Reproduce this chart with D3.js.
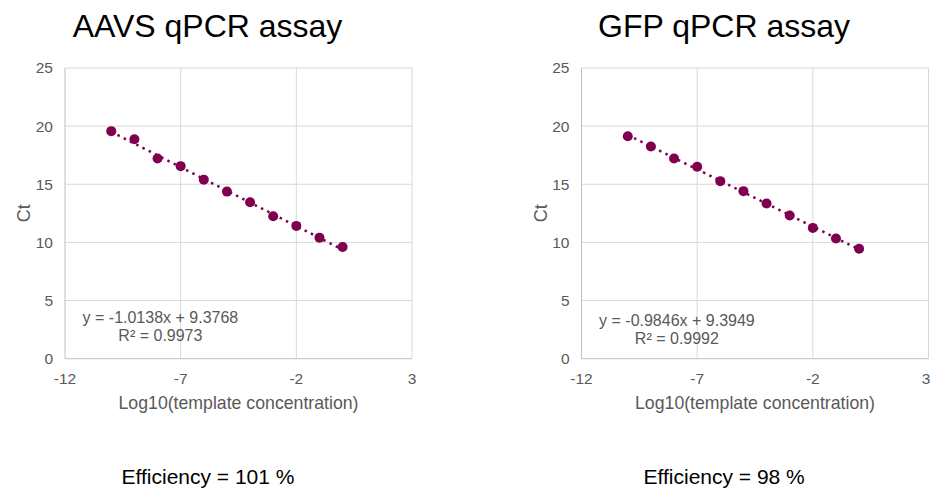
<!DOCTYPE html>
<html>
<head>
<meta charset="utf-8">
<script src="https://cdn.jsdelivr.net/npm/d3@7"></script>
<style>
  html, body { margin: 0; padding: 0; background: #fff; }
  svg { display: block; font-family: Arial, "Liberation Sans", sans-serif; }
</style>
</head>
<body>
<svg id="chart" width="931" height="491"></svg>
<script>
// ---- data ----
const logConc = [-10, -9, -8, -7, -6, -5, -4, -3, -2, -1, 0];
const aavsCt = [19.57, 18.88, 17.21, 16.56, 15.40, 14.37, 13.46, 12.25, 11.42, 10.41, 9.61];
const gfpCt  = [19.13, 18.25, 17.22, 16.50, 15.27, 14.41, 13.35, 12.32, 11.25, 10.34, 9.45];
const titles = ["AAVS qPCR assay", "GFP qPCR assay"];
const slopes = [-1.0138, -0.9846];
const intercepts = [9.3768, 9.3949];
const equations = ["y = -1.0138x + 9.3768", "y = -0.9846x + 9.3949"];
const rSquared = ["R² = 0.9973", "R² = 0.9992"];
const efficiencies = ["Efficiency = 101 %", "Efficiency = 98 %"];
const xTicks = [-12, -7, -2, 3];
const yTicks = [0, 5, 10, 15, 20, 25];

const svg = d3.select("#chart");
const color = "#800050";
const panels = [
  { left: 65,    ct: aavsCt, eqDy: 0 },
  { left: 581.5, ct: gfpCt,  eqDy: 2.5 }
];
const plotW = 347, plotTop = 68, plotBottom = 358.7;

panels.forEach((p, i) => {
  const x = d3.scaleLinear().domain([-12, 3]).range([p.left, p.left + plotW]);
  const y = d3.scaleLinear().domain([0, 25]).range([plotBottom, plotTop]);
  const g = svg.append("g");

  // gridlines
  g.selectAll(".hg").data(yTicks.filter(d => d > 0)).join("line")
    .attr("x1", x(-12)).attr("x2", x(3))
    .attr("y1", d => y(d)).attr("y2", d => y(d))
    .attr("stroke", "#d9d9d9").attr("stroke-width", 1);
  g.selectAll(".vg").data(xTicks.filter(d => d > -12)).join("line")
    .attr("x1", d => x(d)).attr("x2", d => x(d))
    .attr("y1", y(0)).attr("y2", y(25))
    .attr("stroke", "#d9d9d9").attr("stroke-width", 1);
  // axes lines
  g.append("line").attr("x1", x(-12)).attr("x2", x(-12)).attr("y1", y(0)).attr("y2", y(25))
    .attr("stroke", "#bfbfbf").attr("stroke-width", 1);
  g.append("line").attr("x1", x(-12)).attr("x2", x(3)).attr("y1", y(0)).attr("y2", y(0))
    .attr("stroke", "#bfbfbf").attr("stroke-width", 1);

  // tick labels
  g.selectAll(".yt").data(yTicks).join("text")
    .attr("x", x(-12) - 12).attr("y", d => y(d)).attr("dy", "0.35em")
    .attr("text-anchor", "end").attr("font-size", 15.5).attr("fill", "#595959")
    .text(d => d);
  g.selectAll(".xt").data(xTicks).join("text")
    .attr("x", d => Math.min(x(d), 926)).attr("y", 384)
    .attr("text-anchor", "middle").attr("font-size", 15.5).attr("fill", "#595959")
    .text(d => d);

  // axis titles
  g.append("text").attr("x", x(-4.5)).attr("y", 409)
    .attr("text-anchor", "middle").attr("font-size", 17.7).attr("fill", "#595959")
    .text("Log10(template concentration)");
  g.append("text")
    .attr("transform", `translate(${p.left - 35},${(plotTop + plotBottom) / 2}) rotate(-90)`)
    .attr("text-anchor", "middle").attr("font-size", 18).attr("fill", "#595959")
    .text("Ct");

  // trendline
  const xs = [logConc[0], logConc[logConc.length - 1]];
  g.append("line")
    .attr("x1", x(xs[0])).attr("y1", y(slopes[i] * xs[0] + intercepts[i]))
    .attr("x2", x(xs[1])).attr("y2", y(slopes[i] * xs[1] + intercepts[i]))
    .attr("stroke", color).attr("stroke-width", 2.5).attr("stroke-dasharray", "2.5 4.5");

  // points
  g.selectAll(".pt").data(logConc.map((c, k) => [c, p.ct[k]])).join("circle")
    .attr("cx", d => x(d[0])).attr("cy", d => y(d[1])).attr("r", 5)
    .attr("fill", color);

  // equation
  const ex = p.left + 95.4;
  g.append("text").attr("x", ex).attr("y", 323 + p.eqDy)
    .attr("text-anchor", "middle").attr("font-size", 16).attr("fill", "#595959")
    .text(equations[i]);
  g.append("text").attr("x", ex).attr("y", 341 + p.eqDy)
    .attr("text-anchor", "middle").attr("font-size", 16).attr("fill", "#595959")
    .text(rSquared[i]);

  // title
  g.append("text").attr("x", p.left + 142.5).attr("y", 37)
    .attr("text-anchor", "middle").attr("font-size", 32).attr("fill", "#000")
    .text(titles[i]);

  // efficiency
  g.append("text").attr("x", p.left + 56.5 + (i === 1 ? 5.5 : 0)).attr("y", 484)
    .attr("text-anchor", "start").attr("font-size", 21).attr("fill", "#000")
    .text(efficiencies[i]);
});
</script>
</body>
</html>
